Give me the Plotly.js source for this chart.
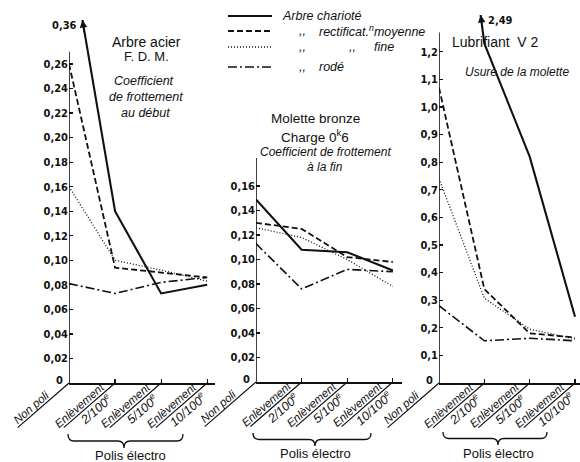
<!DOCTYPE html>
<html><head><meta charset="utf-8">
<script src="https://cdn.plot.ly/plotly-3.0.1.min.js"></script>
<style>html,body{margin:0;padding:0;background:#fff}#chart{width:580px;height:462px}</style>
</head><body><div id="chart"></div>
<script>
// ---------- DATA ----------
const categories = ['Non poli', 'Enlèvement 2/100e', 'Enlèvement 5/100e', 'Enlèvement 10/100e'];
const catWord = ['Non poli', 'Enlèvement', 'Enlèvement', 'Enlèvement'];
const catSub = ['', '2/100<sup>e</sup>', '5/100<sup>e</sup>', '10/100<sup>e</sup>'];
const seriesNames = ['Arbre charioté', 'Arbre rectifié moyenne', 'Arbre rectifié fine', 'Arbre rodé'];
// legend text pieces: [text, x offset from sample start]
const legendTexts = [
  [['Arbre charioté', 52]],
  [[',,', 69], ['rectificat.<sup>n</sup>moyenne', 89]],
  [[',,', 69], [',,', 119], ['fine', 144]],
  [[',,', 69], ['rodé', 89]]
];
// Panel 1 : coefficient de frottement au début
const debutChariote = [0.36, 0.140, 0.073, 0.080];
const debutMoyenne  = [0.260, 0.094, 0.090, 0.086];
const debutFine     = [0.160, 0.100, 0.092, 0.083];
const debutRode     = [0.081, 0.073, 0.082, 0.086];
// Panel 2 : coefficient de frottement à la fin
const finChariote = [0.149, 0.108, 0.106, 0.091];
const finMoyenne  = [0.130, 0.125, 0.102, 0.098];
const finFine     = [0.126, 0.118, 0.100, 0.078];
const finRode     = [0.113, 0.076, 0.092, 0.090];
// Panel 3 : usure de la molette
const usureChariote = [2.49, 1.23, 0.82, 0.24];
const usureMoyenne  = [1.07, 0.34, 0.18, 0.165];
const usureFine     = [0.74, 0.307, 0.195, 0.16];
const usureRode     = [0.28, 0.153, 0.162, 0.153];
// Tick labels
const tickDebutVals = [0,0.02,0.04,0.06,0.08,0.10,0.12,0.14,0.16,0.18,0.20,0.22,0.24,0.26];
const tickDebutText = ['0','0,02','0,04','0,06','0,08','0,10','0,12','0,14','0,16','0,18','0,20','0,22','0,24','0,26'];
const tickFinVals = [0,0.02,0.04,0.06,0.08,0.10,0.12,0.14,0.16];
const tickFinText = ['0','0,02','0,04','0,06','0,08','0,10','0,12','0,14','0,16'];
const tickUsureVals = [0,0.1,0.2,0.3,0.4,0.5,0.6,0.7,0.8,0.9,1.0,1.1,1.2];
const tickUsureText = ['0','0,1','0,2','0,3','0,4','0,5','0,6','0,7','0,8','0,9','1,0','1,1','1,2'];

// ---------- STYLES / LAYOUT ----------
const W = 580, H = 462;
const px = x => x / W, py = y => 1 - y / H;
const xIdx = categories.map((_, i) => i);
const lineStyles = [
  {color:'#111', width:2.1, dash:'solid'},
  {color:'#111', width:1.8, dash:'6px,3px'},
  {color:'#111', width:1.3, dash:'1px,2px'},
  {color:'#111', width:1.6, dash:'9px,3px,2px,3px'}
];
const legendRows = [16, 31, 47, 67];
const legendX = 228;
const panels = [
  {xa:'x',  ya:'y',  series:[debutChariote, debutMoyenne, debutFine, debutRode],
   xdom:[69,215], ydom:[383,20],  xmax:3.17, ymax:0.2958, axisTop:0.27,
   tv:tickDebutVals, tt:tickDebutText},
  {xa:'x2', ya:'y2', series:[finChariote, finMoyenne, finFine, finRode],
   xdom:[256,402], ydom:[382,158], xmax:3.2, ymax:0.1829, axisTop:0.1829,
   tv:tickFinVals, tt:tickFinText},
  {xa:'x3', ya:'y3', series:[usureChariote, usureMoyenne, usureFine, usureRode],
   xdom:[439,580], ydom:[383,15], xmax:3.11, ymax:1.333, axisTop:1.27,
   tv:tickUsureVals, tt:tickUsureText}
];

const tickFont = {family:'DejaVu Sans Condensed, DejaVu Sans', size:11, color:'#111', weight:'bold'};
const txtFont = (size, italic) => ({family:'Liberation Sans, Arial, sans-serif', size:size, color:'#111', style: italic ? 'italic' : 'normal'});

const traces = [];
const layout = {
  width: W, height: H, margin:{l:0,r:0,t:0,b:0},
  paper_bgcolor:'#fff', plot_bgcolor:'rgba(0,0,0,0)',
  showlegend:false,
  shapes:[], annotations:[],
  // full-page helper axes (pixel space) for decorations
  xaxis4:{domain:[0,1], range:[0,W], visible:false, fixedrange:true, anchor:'y4'},
  yaxis4:{domain:[0,1], range:[H,0], visible:false, fixedrange:true, anchor:'x4'}
};

panels.forEach((p, k) => {
  p.series.forEach((vals, s) => {
    traces.push({type:'scatter', mode:'lines', x:xIdx, y:vals, xaxis:p.xa, yaxis:p.ya,
      name:seriesNames[s], showlegend:false, line:lineStyles[s], hoverinfo:'skip'});
  });
  const xn = k === 0 ? 'xaxis' : 'xaxis' + (k + 1);
  const yn = k === 0 ? 'yaxis' : 'yaxis' + (k + 1);
  layout[xn] = {domain:[px(p.xdom[0]), px(p.xdom[1])], range:[0, p.xmax], anchor:p.ya,
    showline:true, linecolor:'#111', linewidth:1.5, showgrid:false, zeroline:false,
    ticks:'inside', ticklen:4, tickwidth:1.2, tickcolor:'#111', tickvals:xIdx.slice(1), showticklabels:false, fixedrange:true};
  layout[yn] = {domain:[py(p.ydom[0]), py(p.ydom[1])], range:[0, p.ymax], anchor:p.xa,
    showline:false, showgrid:false, zeroline:false,
    ticks:'inside', ticklen:4, tickwidth:1.2, tickcolor:'#111',
    tickvals:p.tv.slice(1), ticktext:p.tt.slice(1), tickfont:tickFont, fixedrange:true};
  layout.annotations.push({xref:p.xa, yref:p.ya, x:0, y:0, text:'0', showarrow:false,
    xanchor:'right', yanchor:'middle', xshift:-4, yshift:3, font:tickFont});
  layout.shapes.push({type:'line', xref:p.xa, yref:p.ya, x0:0, x1:0, y0:0, y1:p.axisTop,
    line:{color:'#111', width:1.6}});
  const th = 41 * Math.PI / 180;
  const d = [-Math.cos(th), Math.sin(th)], n = [-Math.sin(th), -Math.cos(th)];
  const off = (along, perp) => ({xshift: along*d[0] + perp*n[0], yshift: -(along*d[1] + perp*n[1])});
  xIdx.forEach(i => {
    const L = 70;
    layout.annotations.push({xref:p.xa, yref:p.ya, x:i, y:0, ax:L*d[0], ay:L*d[1], text:'',
      showarrow:true, arrowhead:0, arrowwidth:1.2, arrowcolor:'#111', standoff:0});
    const o1 = off(i === 0 ? 44 : 41, 6);
    layout.annotations.push(Object.assign({xref:p.xa, yref:p.ya, x:i, y:0, text:catWord[i],
      showarrow:false, textangle:-41, xanchor:'center', yanchor:'middle', font:txtFont(11.5, true)}, o1));
    if (catSub[i]) {
      const o2 = off(32, -7);
      layout.annotations.push(Object.assign({xref:p.xa, yref:p.ya, x:i, y:0, text:catSub[i],
        showarrow:false, textangle:-41, xanchor:'center', yanchor:'middle', font:txtFont(12.5, true)}, o2));
    }
  });
});
traces.push({type:'scatter', mode:'lines', x:[], y:[], xaxis:'x4', yaxis:'y4', showlegend:false, hoverinfo:'skip'});

// legend (drawn by hand to follow the original's ditto-mark layout)
legendRows.forEach((y, s) => {
  layout.shapes.push({type:'line', xref:'x4', yref:'y4', x0:legendX, x1:legendX + 44, y0:y, y1:y, line:lineStyles[s]});
  legendTexts[s].forEach(t => {
    layout.annotations.push({xref:'x4', yref:'y4', x:legendX + t[1], y:y, text:t[0], showarrow:false,
      xanchor:'left', yanchor:'middle', font:txtFont(12.5, true)});
  });
});

function offArrow(p, vals, label, side) {
  const top = p.ymax;
  const t = (vals[0] - top) / (vals[0] - vals[1]);
  layout.annotations.push({xref:p.xa, yref:p.ya, x:t, y:top, ax:2, ay:14, text:'',
    showarrow:true, arrowhead:2, arrowsize:1, arrowwidth:1.5, arrowcolor:'#111', standoff:0});
  layout.annotations.push({xref:p.xa, yref:p.ya, x:t, y:top, text:label, showarrow:false,
    xanchor: side, yanchor:'middle', xshift: side === 'right' ? -3 : 5, yshift:-6, font:tickFont});
}
offArrow(panels[0], debutChariote, '0,36', 'right');
offArrow(panels[2], usureChariote, '2,49', 'left');

function txt(x, y, text, size, italic, anchor) {
  layout.annotations.push({xref:'paper', yref:'paper', x:px(x), y:py(y), text:text, showarrow:false,
    xanchor:anchor || 'center', yanchor:'middle', font:txtFont(size, italic)});
}
txt(146, 42, 'Arbre acier', 14, false);
txt(146, 57, 'F. D. M.', 13, false);
txt(144, 81, 'Coefficient', 12.5, true);
txt(146, 97, 'de frottement', 12.5, true);
txt(145, 113, 'au début', 12.5, true);
txt(315, 118, 'Molette bronze', 13.5, false);
txt(315, 136, 'Charge 0<sup>k</sup>6', 13.5, false);
txt(325, 152, 'Coefficient de frottement', 12, true);
txt(325, 167, 'à la fin', 12, true);
txt(495, 42, 'Lubrifiant  V 2', 14, false);
txt(517, 72, 'Usure de la molette', 12, true);

function brace(x1, x2, xm, y0, y1) {
  const ym = (y0 + y1) / 2, r = 6;
  const P = (x, y) => x + ',' + y;
  return 'M' + P(x1, y0) + ' Q' + P(x1, ym) + ' ' + P(x1 + r, ym) + ' L' + P(xm - r, ym) +
    ' Q' + P(xm, ym) + ' ' + P(xm, y1) + ' Q' + P(xm, ym) + ' ' + P(xm + r, ym) +
    ' L' + P(x2 - r, ym) + ' Q' + P(x2, ym) + ' ' + P(x2, y0);
}
[[68, 183, 124, 434, 448, 130, 455], [253, 371, 315, 433, 446, 315, 453], [443, 547, 498, 432, 445, 498, 453]].forEach(b => {
  layout.shapes.push({type:'path', xref:'x4', yref:'y4', path:brace(b[0], b[1], b[2], b[3], b[4]),
    line:{color:'#111', width:1.3}});
  txt(b[5], b[6], 'Polis électro', 13, false);
});

Plotly.newPlot('chart', traces, layout, {staticPlot:true, displayModeBar:false});
</script>
</body></html>
